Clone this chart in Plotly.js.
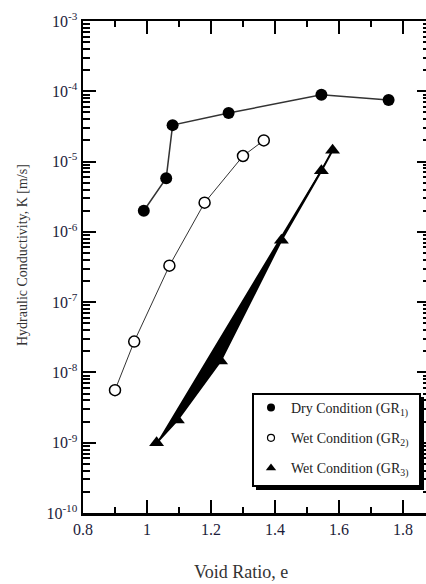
<!DOCTYPE html>
<html>
<head>
<meta charset="utf-8">
<script src="https://cdn.plot.ly/plotly-3.0.1.min.js"></script>
<style>
  html, body { margin: 0; padding: 0; background: #fff; overflow: hidden; }
  #chart { width: 430px; height: 584px; }
</style>
</head>
<body>
<div id="chart"></div>
<script>
// Void ratio vs. hydraulic conductivity for the three test conditions
const voidRatioDry = [0.99, 1.06, 1.08, 1.255, 1.545, 1.755];
const kDry = [2.0e-6, 5.8e-6, 3.3e-5, 4.9e-5, 8.9e-5, 7.5e-5];

const voidRatioWet2 = [0.90, 0.96, 1.07, 1.18, 1.30, 1.365];
const kWet2 = [5.6e-9, 2.75e-8, 3.3e-7, 2.6e-6, 1.2e-5, 2.0e-5];

const voidRatioWet3 = [1.03, 1.095, 1.23, 1.42, 1.545, 1.58];
const kWet3 = [1.0e-9, 2.1e-9, 1.45e-8, 7.6e-7, 7.4e-6, 1.45e-5];

const seriesNames = [
  'Dry Condition (GR<sub>1)</sub>',
  'Wet Condition (GR<sub>2)</sub>',
  'Wet Condition (GR<sub>3)</sub>'
];

const yTickVals = [1e-10, 1e-9, 1e-8, 1e-7, 1e-6, 1e-5, 1e-4, 1e-3];
const yTickText = ['10<sup>-10</sup>', '10<sup>-9</sup>', '10<sup>-8</sup>', '10<sup>-7</sup>',
                   '10<sup>-6</sup>', '10<sup>-5</sup>', '10<sup>-4</sup>', '10<sup>-3</sup>'];
const xTickVals = [0.8, 1.0, 1.2, 1.4, 1.6, 1.8];
const xTickText = ['0.8', '1', '1.2', '1.4', '1.6', '1.8'];

// minor log ticks at 2..9 within each decade
const yMinorVals = [];
for (let d = -10; d < -3; d++) {
  for (let m = 2; m <= 9; m++) yMinorVals.push(m * Math.pow(10, d));
}

const W = 430, H = 584;
const M = { l: 83, r: 0, t: 21, b: 71 };
const pw = W - M.l - M.r, ph = H - M.t - M.b;
const px = v => (v - M.l) / pw;          // page px -> paper x
const py = v => (H - M.b - v) / ph;      // page px -> paper y

const serif = '"Times New Roman", "Liberation Serif", "DejaVu Serif", serif';

const traces = [
  {
    x: voidRatioDry, y: kDry, mode: 'lines+markers', showlegend: false,
    line: { color: '#333', width: 1.5 },
    marker: { symbol: 'circle', size: 12, color: '#000' }
  },
  {
    x: voidRatioWet2, y: kWet2, mode: 'lines+markers', showlegend: false,
    line: { color: '#333', width: 1 },
    marker: { symbol: 'circle', size: 11, color: '#fff', line: { color: '#000', width: 1.5 } }
  },
  {
    x: voidRatioWet3, y: kWet3, mode: 'lines', fill: 'toself', fillcolor: '#000',
    showlegend: false, line: { color: '#000', width: 2 }, hoverinfo: 'skip'
  },
  {
    x: voidRatioWet3, y: kWet3, mode: 'markers', showlegend: false,
    marker: { symbol: 'triangle-up', size: 13, color: '#000' }
  },
  // legend entries (markers only)
  { x: [null], y: [null], mode: 'markers', name: seriesNames[0], legendgroup: 'a',
    marker: { symbol: 'circle', size: 8, color: '#000' } },
  { x: [null], y: [null], mode: 'markers', name: seriesNames[1], legendgroup: 'b',
    marker: { symbol: 'circle', size: 7, color: '#fff', line: { color: '#000', width: 1.2 } } },
  { x: [null], y: [null], mode: 'markers', name: seriesNames[2], legendgroup: 'c',
    marker: { symbol: 'triangle-up', size: 9, color: '#000' } }
];

const layout = {
  width: W, height: H,
  margin: M,
  paper_bgcolor: '#fff', plot_bgcolor: '#fff',
  font: { family: serif, color: '#1c1c3a', size: 16 },
  showlegend: true,
  legend: {
    x: px(251), y: py(392), xanchor: 'left', yanchor: 'top',
    bgcolor: 'rgba(0,0,0,0)', borderwidth: 0,
    font: { family: serif, size: 14, color: '#222' },
    tracegroupgap: 9, itemwidth: 30
  },
  xaxis: {
    type: 'linear', range: [0.8, 0.8 + pw / 320],
    tickmode: 'array', tickvals: xTickVals, ticktext: xTickText,
    ticks: 'inside', ticklen: 13, tickwidth: 2, tickcolor: '#000',
    minor: { tickmode: 'linear', tick0: 0.8, dtick: 0.1, ticks: 'inside', ticklen: 6, tickwidth: 2, tickcolor: '#000', showgrid: false },
    showline: true, linecolor: '#000', linewidth: 2.5, mirror: 'allticks',
    showgrid: false, zeroline: false,
    tickfont: { family: serif, size: 16, color: '#1c1c3a' }
  },
  yaxis: {
    type: 'log', range: [-10, -3],
    tickmode: 'array', tickvals: yTickVals, ticktext: yTickText,
    ticks: 'inside', ticklen: 13, tickwidth: 2, tickcolor: '#000',
    minor: { tickmode: 'array', tickvals: yMinorVals, ticks: 'inside', ticklen: 7, tickwidth: 2, tickcolor: '#000', showgrid: false },
    showline: true, linecolor: '#000', linewidth: 2.5, mirror: 'allticks',
    showgrid: false, zeroline: false,
    tickfont: { family: serif, size: 16, color: '#1c1c3a' }
  },
  shapes: [
    // legend shadow and frame
    { type: 'rect', xref: 'paper', yref: 'paper', layer: 'above',
      x0: px(256), x1: px(424), y0: py(397), y1: py(490),
      fillcolor: '#000', line: { width: 0 } },
    { type: 'rect', xref: 'paper', yref: 'paper', layer: 'above',
      x0: px(253), x1: px(420), y0: py(394), y1: py(486),
      fillcolor: '#fff', line: { color: '#000', width: 2 } }
  ],
  annotations: [
    { text: 'Void Ratio, e', xref: 'paper', yref: 'paper', x: px(241), y: py(572),
      xanchor: 'center', yanchor: 'middle', showarrow: false,
      font: { family: serif, size: 18, color: '#333' } },
    { text: 'Hydraulic Conductivity, K [m/s]', xref: 'paper', yref: 'paper',
      x: px(22), y: py(255), textangle: -90, xanchor: 'center', yanchor: 'middle',
      showarrow: false, font: { family: serif, size: 14, color: '#333' } }
  ]
};

Plotly.newPlot('chart', traces, layout, { displayModeBar: false, staticPlot: true });
</script>
</body>
</html>
